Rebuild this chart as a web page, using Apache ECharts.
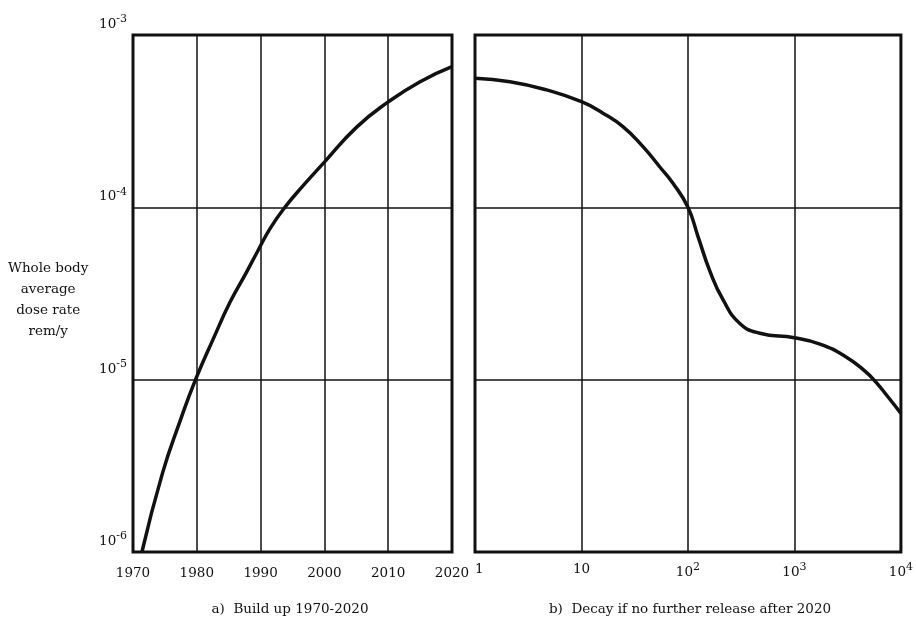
<!DOCTYPE html>
<html><head><meta charset="utf-8">
<script src="https://cdn.jsdelivr.net/npm/echarts@6/dist/echarts.min.js"></script>
<style>html,body{margin:0;padding:0;background:#fff}#c{width:916px;height:626px}</style>
</head><body><div id="c"></div>
<script>
// Panel a) build up 1970-2020: year and dose rate (rem/y)
const buildYears = [1971.4, 1974.6, 1977.4, 1979.8, 1982.6, 1985.2, 1987.8, 1989.6, 1991.5, 1993.8, 1996.7, 2000, 2005.1, 2010, 2015, 2020];
const buildValues = [1.0e-6, 2.85e-6, 5.78e-6, 1.0e-5, 1.73e-5, 2.81e-5, 4.21e-5, 5.62e-5, 7.55e-5, 1.0e-4, 1.34e-4, 1.83e-4, 2.93e-4, 4.09e-4, 5.36e-4, 6.55e-4];
// Panel b) decay after 2020: years after 2020 and dose rate (rem/y)
const decayTimes = [1, 2.13, 4.7, 10, 15.9, 24.5, 37.8, 54.2, 72.3, 100, 125, 161, 214, 307, 474, 1000, 1735, 3030, 4680, 5800, 7740, 10000];
const decayValues = [5.61e-4, 5.36e-4, 4.80e-4, 4.10e-4, 3.52e-4, 2.94e-4, 2.25e-4, 1.72e-4, 1.38e-4, 1.0e-4, 6.7e-5, 4.25e-5, 2.90e-5, 2.12e-5, 1.86e-5, 1.75e-5, 1.61e-5, 1.36e-5, 1.11e-5, 9.7e-6, 7.8e-6, 6.37e-6];
const yearTicks = ["1970", "1980", "1990", "2000", "2010", "2020"];
const yLabelLines = ["Whole body", "average", "dose rate", "rem/y"];
const captionA = "a)  Build up 1970-2020";
const captionB = "b)  Decay if no further release after 2020";

const FONT = "DejaVu Serif";
const rich = {
  b: {fontFamily: FONT, fontSize: 13.5, color: '#111'},
  s: {fontFamily: FONT, fontSize: 11, color: '#111', verticalAlign: 'bottom', padding: [0, 0, 10, 0]}
};
function expOf(v){ return Math.round(Math.log10(v)); }

const chart = echarts.init(document.getElementById('c'));
chart.setOption({
  backgroundColor: '#fff',
  animation: false,
  grid: [
    {left: 133, right: 464, top: 35, bottom: 74, show: true, borderColor: '#111', borderWidth: 3},
    {left: 475, right: 14, top: 35, bottom: 74, show: true, borderColor: '#111', borderWidth: 3}
  ],
  xAxis: [
    {type: 'value', gridIndex: 0, min: 1970, max: 2020, interval: 10,
     axisLine: {show: false}, axisTick: {show: false},
     splitLine: {show: true, lineStyle: {color: '#111', width: 1.5}},
     axisLabel: {fontFamily: FONT, fontSize: 13.5, color: '#111', margin: 14,
       formatter: function(v){ return yearTicks[Math.round((v - 1970) / 10)]; }}},
    {type: 'log', gridIndex: 1, min: 1, max: 10000, logBase: 10,
     axisLine: {show: false}, axisTick: {show: false},
     splitLine: {show: true, lineStyle: {color: '#111', width: 1.5}},
     axisLabel: {margin: 10, rich: rich, formatter: function(v){
        const e = expOf(v);
        if (e === 0) return '{b|  1}';
        if (e === 1) return '{b|10}';
        return '{b|10}{s|' + e + '}';
     }}}
  ],
  yAxis: [
    {type: 'log', gridIndex: 0, min: 1e-6, max: 1e-3, logBase: 10,
     axisLine: {show: false}, axisTick: {show: false},
     splitLine: {show: true, lineStyle: {color: '#111', width: 1.5}},
     axisLabel: {margin: 6, rich: rich, verticalAlign: 'bottom', formatter: function(v){
        return '{b|10}{s|' + expOf(v) + '}';
     }}},
    {type: 'log', gridIndex: 1, min: 1e-6, max: 1e-3, logBase: 10,
     axisLine: {show: false}, axisTick: {show: false}, axisLabel: {show: false},
     splitLine: {show: true, lineStyle: {color: '#111', width: 1.5}}}
  ],
  series: [
    {type: 'line', xAxisIndex: 0, yAxisIndex: 0, smooth: 0.5, showSymbol: false,
     lineStyle: {color: '#111', width: 3.5},
     data: buildYears.map((y, i) => [y, buildValues[i]])},
    {type: 'line', xAxisIndex: 1, yAxisIndex: 1, smooth: 0.5, showSymbol: false,
     lineStyle: {color: '#111', width: 3.5},
     data: decayTimes.map((t, i) => [t, decayValues[i]])}
  ],
  graphic: [
    {type: 'text', left: 8, top: 258, style: {text: yLabelLines.join('\n'), textAlign: 'center',
      x: 57, fontFamily: FONT, fontSize: 13.5, lineHeight: 21, fill: '#111'}},
    {type: 'text', style: {text: captionA, x: 290, y: 609, textAlign: 'center', textVerticalAlign: 'middle',
      fontFamily: FONT, fontSize: 13.5, fill: '#111'}},
    {type: 'text', style: {text: captionB, x: 690, y: 609, textAlign: 'center', textVerticalAlign: 'middle',
      fontFamily: FONT, fontSize: 13.5, fill: '#111'}}
  ]
});
</script></body></html>
